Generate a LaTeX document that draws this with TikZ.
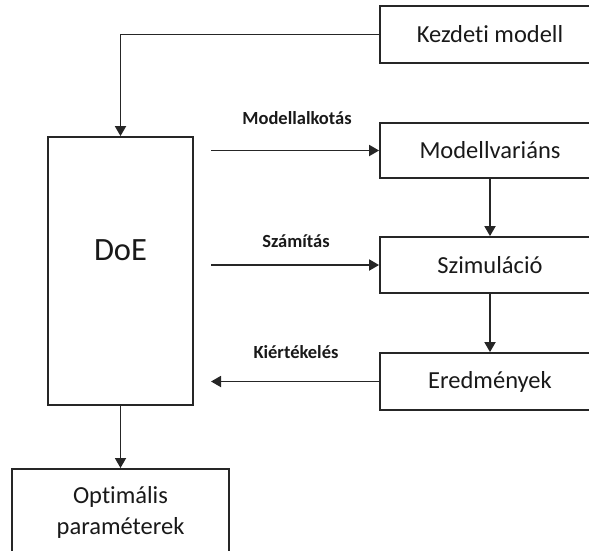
\documentclass[tikz,border=0pt]{standalone}
\usepackage{fontspec}
\setmainfont[RawFeature={-liga;-clig;-dlig;-calt}]{Carlito}
\usetikzlibrary{arrows.meta}
\begin{document}
\begin{tikzpicture}[x=1pt,y=-1pt,
  line width=1.8pt,
  boxst/.style={draw=black!85,line width=1.8pt,rectangle,inner sep=0pt,font=\fontsize{24.5}{28}\selectfont,text=black!90},
  lbl/.style={font=\fontsize{18.5}{22}\selectfont\bfseries,text=black!90},
  arr/.style={draw=black!85,line width=1.8pt,-{Triangle[length=10pt,width=11pt]}}]
\useasboundingbox (0,0) rectangle (589,550);
\clip (0,0) rectangle (589,550);
\node[boxst,minimum width=220pt,minimum height=57pt] (kezdeti) at (490,34.5) {Kezdeti modell};
\node[boxst,minimum width=220pt,minimum height=55pt] (modvar) at (490,150.5) {Modellvariáns};
\node[boxst,minimum width=220pt,minimum height=56pt] (szim) at (490,265) {Szimuláció};
\node[boxst,minimum width=220pt,minimum height=57pt] (ered) at (490,381.5) {Eredmények};
\node[boxst,minimum width=145pt,minimum height=268pt] (doe) at (120.5,271) {};
\node[font=\fontsize{32.5}{36}\selectfont,text=black!90] (doetext) at (120.5,250) {DoE};
\node[boxst,minimum width=217pt,minimum height=130pt,anchor=north] (opt) at (120.5,468) {};
\node[font=\fontsize{24.5}{31}\selectfont,text=black!90,align=center] (opttext) at (120.5,512) {Optimális\\paraméterek};
\coordinate (a1) at (211,150.5);
\coordinate (a2) at (211,265);
\coordinate (a3) at (211,381.5);
\draw[arr] (kezdeti.west) -| (doe.north);
\draw[arr] (a1) -- (modvar.west);
\draw[arr] (modvar.south) -- (szim.north);
\draw[arr] (a2) -- (szim.west);
\draw[arr] (szim.south) -- (ered.north);
\draw[arr] (ered.west) -- (a3);
\draw[arr] (doe.south) -- (opt.north);
\node[lbl] (l1) at (297,118) {Modellalkotás};
\node[lbl] (l2) at (296,241) {Számítás};
\node[lbl] (l3) at (296,352) {Kiértékelés};
\end{tikzpicture}
\end{document}
